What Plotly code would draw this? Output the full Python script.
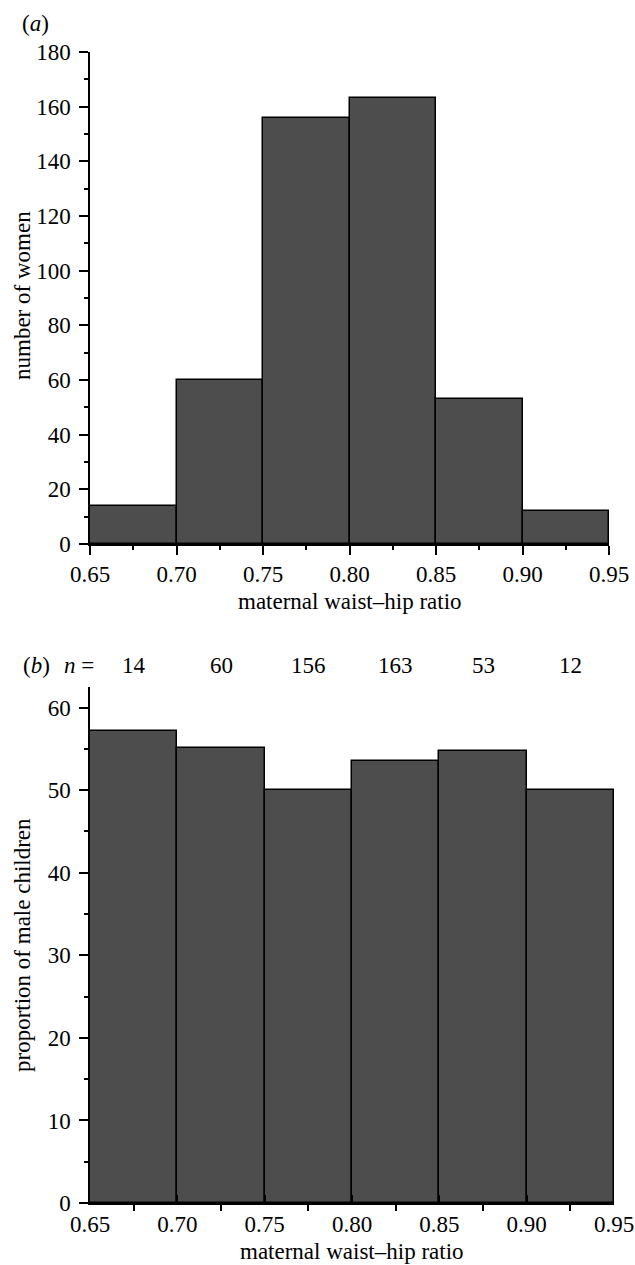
import plotly.graph_objects as go

bin_centers = [0.675, 0.725, 0.775, 0.825, 0.875, 0.925]
bin_width = 0.05
women_counts = [14, 60, 156, 163, 53, 12]
male_percent = [57.2, 55.1, 50.0, 53.5, 54.7, 50.0]
x_ticks = [0.65, 0.70, 0.75, 0.80, 0.85, 0.90, 0.95]
y1_ticks = [0, 20, 40, 60, 80, 100, 120, 140, 160, 180]
y2_ticks = [0, 10, 20, 30, 40, 50, 60]

W, H = 635, 1265
L = 90
R = 614            # right end of panel (b) axis
R_A = 609          # right end of panel (a) axis

def py(p):
    return 1 - p / H

def px(p):
    return (p - L) / (R - L)

FONT = "Liberation Serif"
FS = 23
BAR = "#4d4d4d"
TF = dict(family=FONT, size=FS, color="black")

fig = go.Figure()
fig.add_trace(go.Bar(x=bin_centers, y=women_counts, width=bin_width,
                     marker=dict(color=BAR, line=dict(color="black", width=1.5)),
                     xaxis="x", yaxis="y", showlegend=False, hoverinfo="skip"))
fig.add_trace(go.Bar(x=bin_centers, y=male_percent, width=bin_width,
                     marker=dict(color=BAR, line=dict(color="black", width=1.5)),
                     xaxis="x2", yaxis="y2", showlegend=False, hoverinfo="skip"))

axbase = dict(showline=True, linecolor="black", linewidth=1.5,
              tickwidth=1.5, tickcolor="black", ticklabeloverflow="allow",
              showgrid=False, zeroline=False, fixedrange=True, tickfont=TF)

fig.update_layout(
    width=W, height=H,
    margin=dict(l=L, r=W - R, t=0, b=0, autoexpand=False),
    plot_bgcolor="white", paper_bgcolor="white",
    bargap=0,
    font=TF,
    xaxis=dict(domain=[0, px(R_A)], anchor="y", range=[0.65, 0.95], tickvals=x_ticks, tickformat=".2f",
               ticks="outside", ticklen=9,
               minor=dict(dtick=0.05, tick0=0.675, ticks="outside", ticklen=4, tickwidth=1.5, tickcolor="black"),
               **axbase),
    yaxis=dict(domain=[py(544), py(52)], anchor="x", range=[0, 180], tickvals=y1_ticks,
               ticks="outside", ticklen=9, ticklabelstandoff=4,
               minor=dict(dtick=10, ticks="outside", ticklen=4, tickwidth=1.5, tickcolor="black"),
               **axbase),
    xaxis2=dict(domain=[0, 1], anchor="y2", range=[0.65, 0.95], tickvals=x_ticks, tickformat=".2f",
                ticks="inside", ticklen=8,
                minor=dict(dtick=0.05, tick0=0.675, ticks="outside", ticklen=6, tickwidth=1.5, tickcolor="black"),
                **axbase),
    yaxis2=dict(domain=[py(1203), py(687)], anchor="x2", range=[0, 62.5], tickvals=y2_ticks,
                ticks="outside", ticklen=9, ticklabelstandoff=4,
                minor=dict(dtick=5, ticks="outside", ticklen=4, tickwidth=1.5, tickcolor="black"),
                **axbase),
)

ann = []
def add(text, x, y, **kw):
    ann.append(dict(text=text, x=x, y=y, xref="paper", yref="paper", showarrow=False,
                    xanchor="center", yanchor="middle", font=TF, **kw))

add("(<i>a</i>)", px(35), py(23))
add("(<i>b</i>)", px(36), py(665))
add("<i>n</i> =", px(79), py(665))
for c, n in zip(bin_centers, women_counts):
    ann.append(dict(text=str(n), x=c, y=py(665), xref="x2", yref="paper", showarrow=False,
                    xanchor="center", yanchor="middle", font=TF))
add("maternal waist–hip ratio", px((L + R_A) / 2), py(602))
add("maternal waist–hip ratio", 0.5, py(1251))
add("number of women", px(22), py(296), textangle=-90)
add("proportion of male children", px(22), py(945), textangle=-90)
fig.update_layout(annotations=ann)

fig.write_html("out.html", config={"displayModeBar": False},
               post_script="document.body.style.margin='0';")
